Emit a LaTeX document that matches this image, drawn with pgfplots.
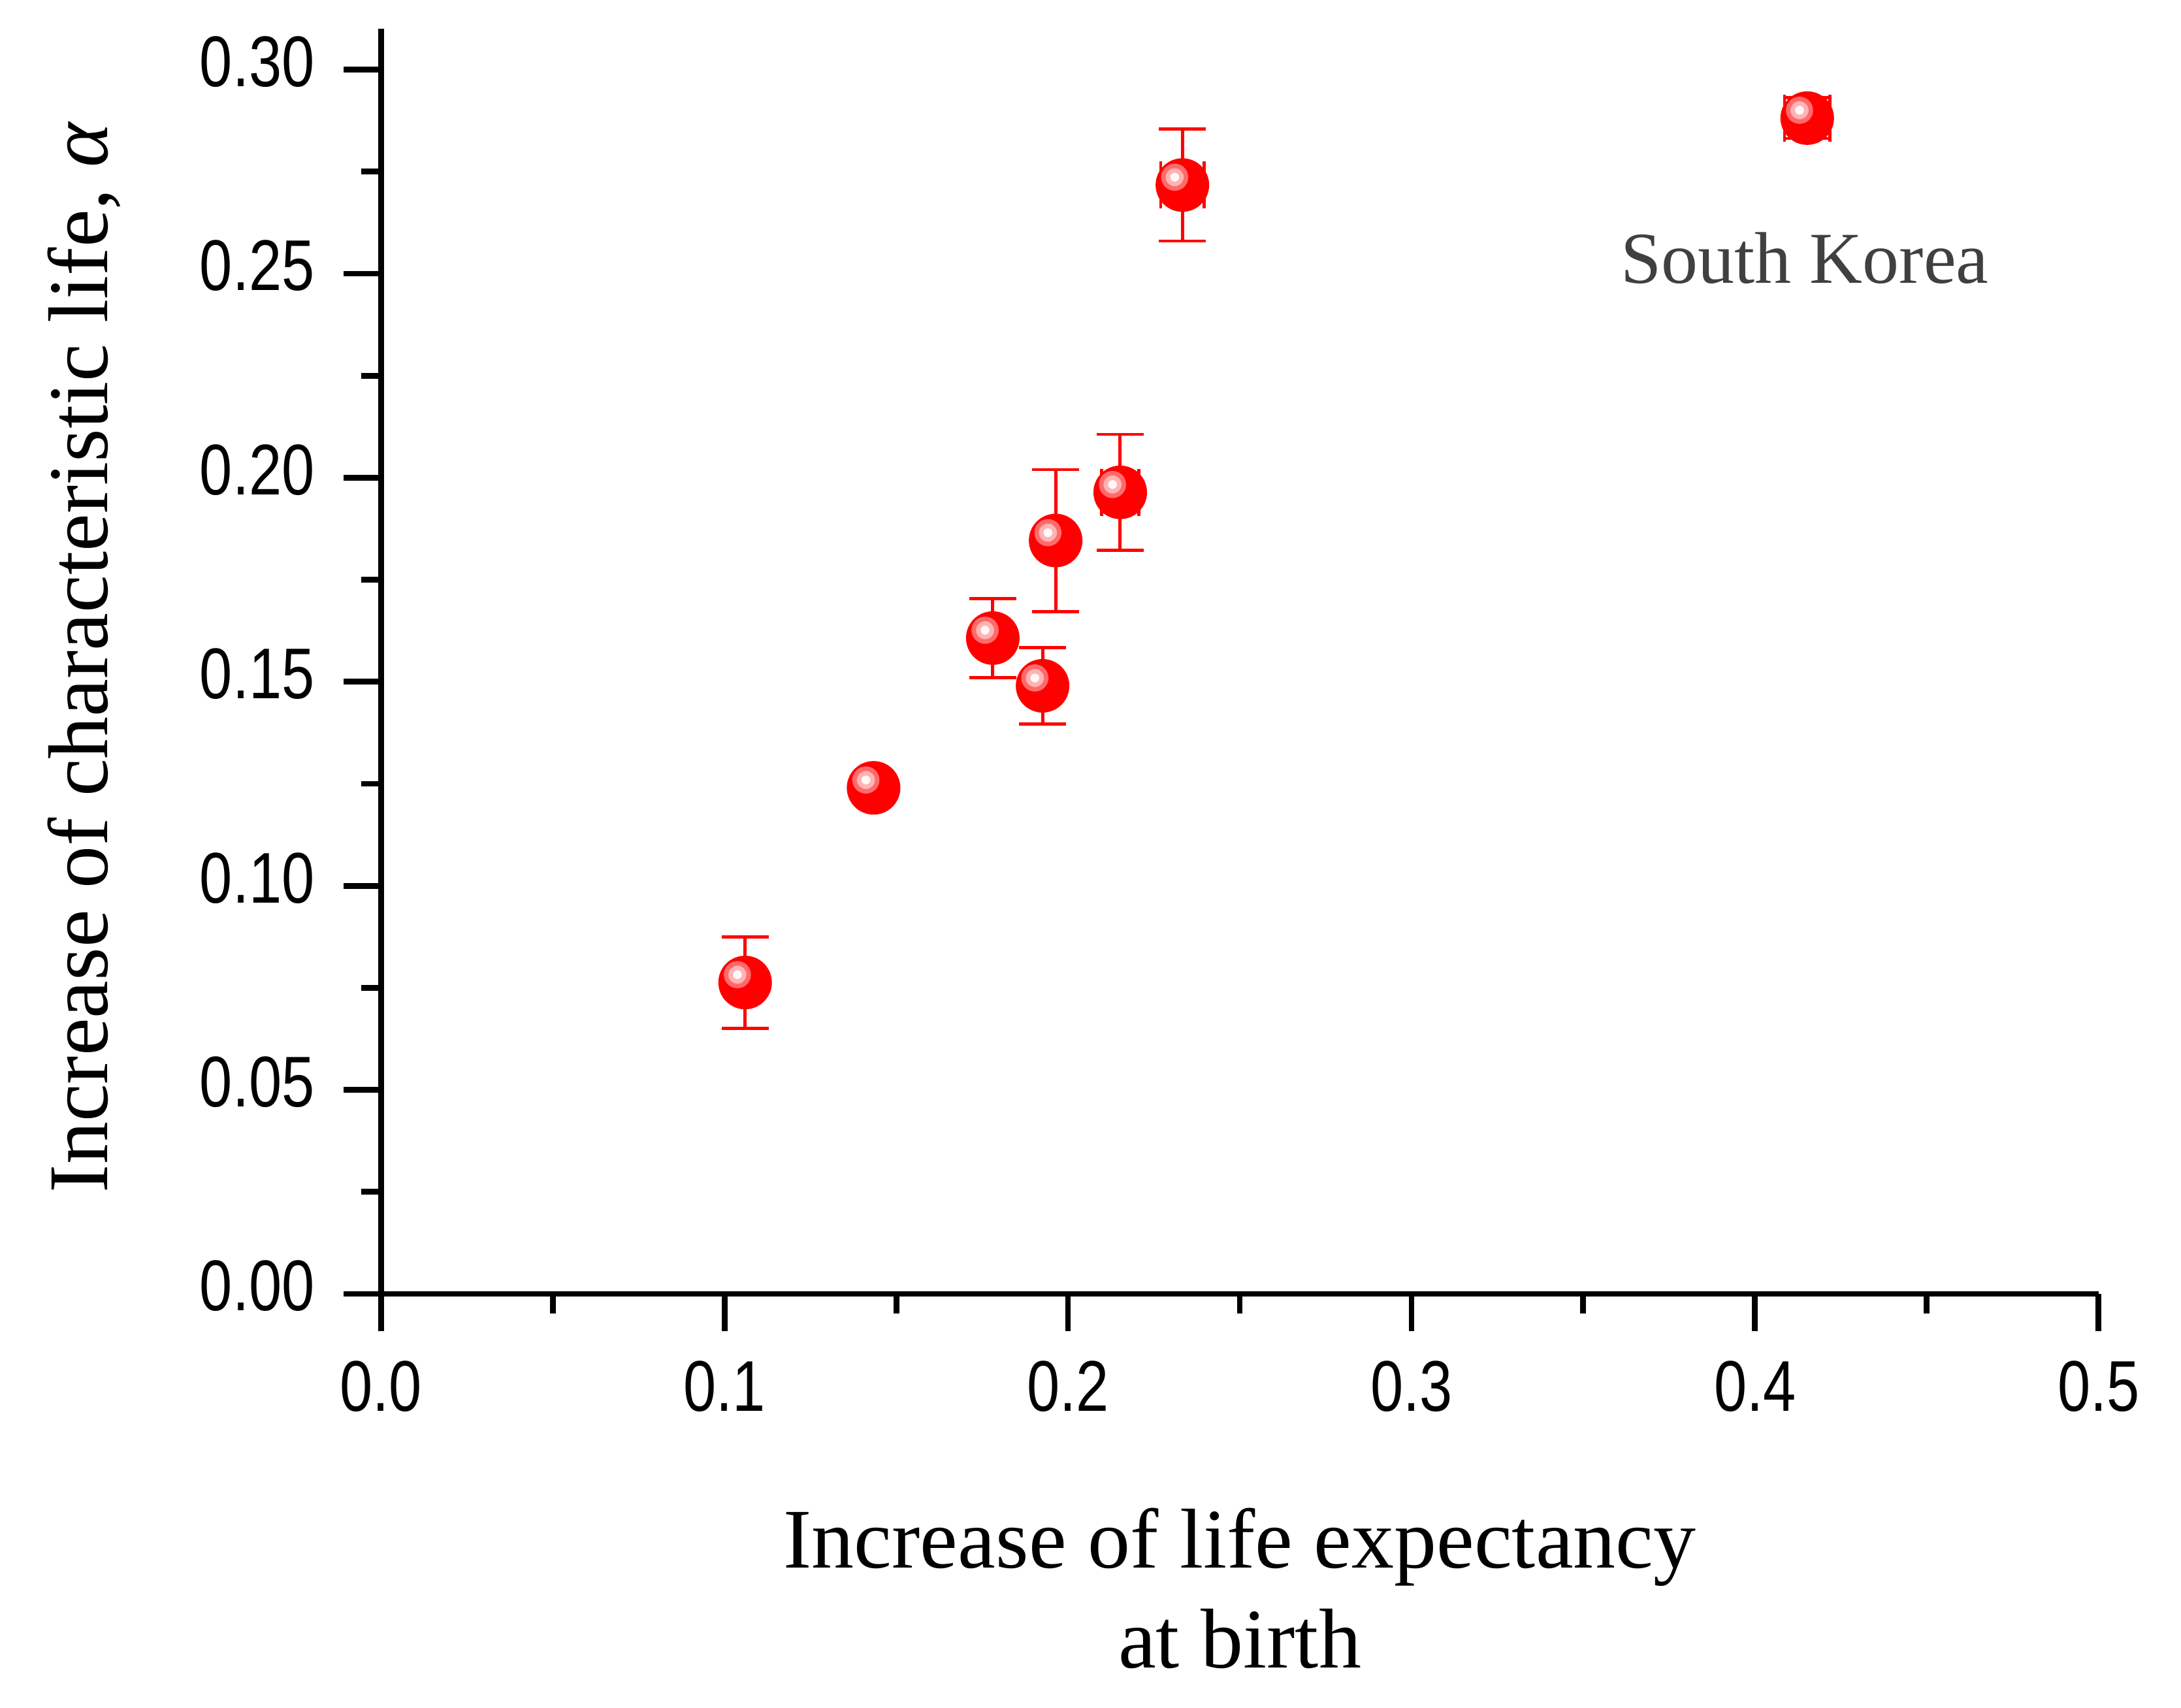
\documentclass[border=0pt]{standalone}
\usepackage{pgfplots}
\pgfplotsset{compat=1.18}
\usepackage{pgfplotstable}
\usepackage{fontspec}
\setmainfont{Liberation Serif}
\newfontfamily\ticksans[FakeStretch=0.82]{Liberation Sans}
\definecolor{ballred}{HTML}{FF0000}
\definecolor{ringA}{HTML}{FF6A6A}
\definecolor{ringB}{HTML}{FFB3B3}
\definecolor{ringC}{HTML}{FFF8F8}
\definecolor{labgray}{HTML}{404040}
\pgfdeclareplotmark{redball}{%
  \pgfsetfillcolor{ballred}%
  \pgfpathcircle{\pgfpointorigin}{10.25pt}\pgfusepathqfill
  \pgfsetfillcolor{ringA}%
  \pgfpathcircle{\pgfpoint{-2.95pt}{3pt}}{5.2pt}\pgfusepathqfill
  \pgfsetfillcolor{ringB}%
  \pgfpathcircle{\pgfpoint{-2.95pt}{3pt}}{3.45pt}\pgfusepathqfill
  \pgfsetfillcolor{ringC}%
  \pgfpathcircle{\pgfpoint{-2.95pt}{3pt}}{1.7pt}\pgfusepathqfill
}
\pgfplotstableread{
x y
0.1060 0.0763
0.1434 0.1240
0.1781 0.1607
0.1926 0.1490
0.1964 0.1846
0.2152 0.1964
0.2333 0.2717
0.4152 0.2881
}\pts
\pgfplotstableread{
x y ey
0.1060 0.0763 0.0112
0.1434 0.1240 0.0027
0.1781 0.1607 0.0097
0.1926 0.1490 0.0094
0.1964 0.1846 0.0174
}\erry
\pgfplotstableread{
x y ex ey
0.2152 0.1964 0.0054 0.0142
0.2333 0.2717 0.0063 0.0137
0.4152 0.2881 0.0066 0.0050
}\errxy
\newcommand\labfont{\fontsize{32.5}{38.25}\selectfont}
\begin{document}
\begin{tikzpicture}
\path[use as bounding box] (-145.825pt,-158.25pt) rectangle (688.925pt,495.25pt);
\begin{axis}[
  at={(0pt,0pt)}, anchor=south west,
  scale only axis, width=657.35pt, height=484.25pt,
  xmin=0, xmax=0.5, ymin=0, ymax=0.31,
  axis lines=left,
  axis line style={-, line width=2.2pt, black},
  xtick={0,0.1,0.2,0.3,0.4,0.5},
  ytick={0,0.05,0.1,0.15,0.2,0.25,0.3},
  minor x tick num=1, minor y tick num=1,
  tick align=outside,
  major tick length=14.25pt, minor tick length=7.5pt,
  every tick/.append style={black, line width=2.2pt},
  /pgf/number format/assume math mode=true,
  tick label style={font=\ticksans\fontsize{27.5}{30}\selectfont, inner sep=0pt},
  xticklabel style={/pgf/number format/.cd, fixed, fixed zerofill, precision=1, /tikz/.cd, anchor=north, yshift=-11.25pt},
  yticklabel style={/pgf/number format/.cd, fixed, fixed zerofill, precision=2, /tikz/.cd, anchor=east, xshift=-11pt, yshift=3pt},
  clip=false,
]
\addplot[only marks, mark=redball] table[x=x, y=y] {\pts};
\addplot[draw=none, mark=none, forget plot,
  error bars/.cd, y dir=both, y explicit,
  error bar style={draw=ballred, line width=1.25pt},
  error mark options={rotate=90, draw=ballred, line width=1.15pt, mark size=9pt}]
  table[x=x, y=y, y error=ey] {\erry};
\addplot[draw=none, mark=none, forget plot,
  error bars/.cd, y dir=both, y explicit, x dir=both, x explicit,
  error bar style={draw=ballred, line width=1.25pt},
  error mark options={rotate=90, draw=ballred, line width=1.15pt, mark size=9pt}]
  table[x=x, y=y, x error=ex, y error=ey] {\errxy};
\node[anchor=base, text=labgray, font=\fontsize{28}{30}\selectfont] at (axis cs:0.4145,0.2477) {South Korea};
\node[anchor=base, font=\labfont] at ([yshift=-104.75pt]axis description cs:0.5,0) {Increase of life expectancy};
\node[anchor=base, font=\labfont] at ([yshift=-143pt]axis description cs:0.5,0) {at birth};
\node[rotate=90, anchor=base, font=\labfont] at ([xshift=-104.75pt,yshift=1.6pt]axis description cs:0,0.5) {Increase of characteristic life, \textit{α}};
\end{axis}
\end{tikzpicture}
\end{document}
